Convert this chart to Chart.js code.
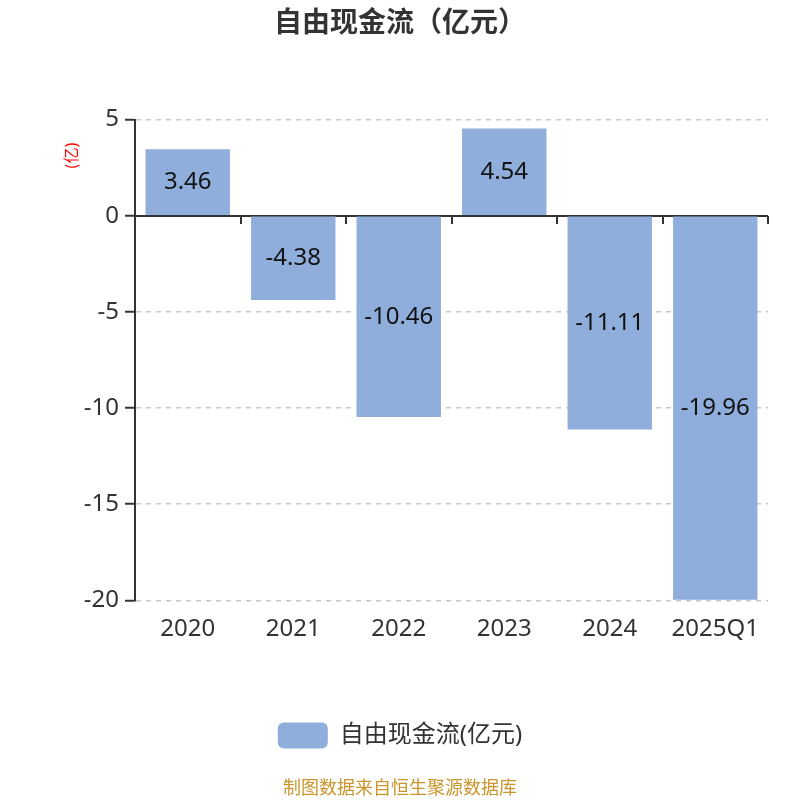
<!DOCTYPE html>
<html>
<head>
<meta charset="utf-8">
<script src="https://cdn.jsdelivr.net/npm/chart.js@4.4.1/dist/chart.umd.min.js"></script>
<style>
  html, body { margin: 0; padding: 0; background: #fff; }
  #wrap { width: 800px; height: 800px; }
</style>
</head>
<body>
<div id="wrap"><canvas id="fcfChart" width="800" height="800"></canvas></div>
<script>
// chart data
const categories = ['2020', '2021', '2022', '2023', '2024', '2025Q1'];
const fcfValues = [3.46, -4.38, -10.46, 4.54, -11.11, -19.96];
const yTicks = [5, 0, -5, -10, -15, -20];

const FONT = '"Noto Sans", "Noto Sans CJK SC", sans-serif';
const BAR_COLOR = '#8FAEDB';

// zero line with small ticks between categories (drawn under the bars)
const zeroLinePlugin = {
    id: 'zeroLine',
    beforeDatasetsDraw(chart) {
        const ctx = chart.ctx;
        const x = chart.scales.x;
        const y0 = Math.round(chart.scales.y.getPixelForValue(0));
        const area = chart.chartArea;
        ctx.save();
        ctx.strokeStyle = '#333';
        ctx.lineWidth = 2;
        ctx.beginPath();
        ctx.moveTo(area.left, y0);
        ctx.lineTo(area.right, y0);
        const step = (area.right - area.left) / categories.length;
        for (let i = 1; i <= categories.length; i++) {
            const tx = Math.round(x.getPixelForValue(i - 1) + step / 2);
            ctx.moveTo(tx, y0);
            ctx.lineTo(tx, y0 + 8);
        }
        ctx.stroke();
        ctx.restore();
    }
};

// value labels in the middle of each bar + the small red unit label
const barLabelPlugin = {
    id: 'barLabels',
    afterDatasetsDraw(chart) {
        const ctx = chart.ctx;
        const meta = chart.getDatasetMeta(0);
        ctx.save();
        ctx.font = '24px ' + FONT;
        ctx.fillStyle = '#111';
        ctx.textAlign = 'center';
        ctx.textBaseline = 'middle';
        meta.data.forEach(function(bar, i) {
            const mid = (bar.y + bar.base) / 2;
            ctx.fillText(fcfValues[i].toFixed(2), bar.x, mid);
        });
        ctx.restore();

        const area = chart.chartArea;
        ctx.save();
        ctx.translate(area.left - 63, area.top + 36);
        ctx.rotate(-Math.PI / 2);
        ctx.font = '16px ' + FONT;
        ctx.fillStyle = '#ff0000';
        ctx.textAlign = 'center';
        ctx.textBaseline = 'middle';
        ctx.fillText('(亿)', 0, 0);
        ctx.restore();
    }
};

new Chart(document.getElementById('fcfChart'), {
    type: 'bar',
    data: {
        labels: categories,
        datasets: [{
            label: '自由现金流(亿元)',
            data: fcfValues,
            backgroundColor: BAR_COLOR,
            borderWidth: 0,
            categoryPercentage: 0.8,
            barPercentage: 1.0
        }]
    },
    options: {
        responsive: false,
        animation: false,
        devicePixelRatio: 1,
        layout: { padding: 0 },
        plugins: {
            title: {
                display: true,
                text: '自由现金流（亿元）',
                color: '#333',
                font: { family: FONT, size: 28, weight: 'bold' },
                padding: { top: 7, bottom: 79 }
            },
            subtitle: {
                display: true,
                position: 'bottom',
                text: '制图数据来自恒生聚源数据库',
                color: '#C9952C',
                font: { family: FONT, size: 18 },
                padding: { top: 20, bottom: 0 }
            },
            legend: {
                position: 'bottom',
                labels: {
                    color: '#333',
                    font: { family: FONT, size: 24 },
                    boxWidth: 50,
                    boxHeight: 26,
                    useBorderRadius: true,
                    borderRadius: 6,
                    padding: 10
                }
            },
            tooltip: { enabled: false }
        },
        scales: {
            x: {
                grid: { display: false },
                border: { display: false },
                ticks: {
                    color: '#333',
                    font: { family: FONT, size: 24 },
                    padding: 6
                },
                afterFit(scale) { scale.height = 112; }
            },
            y: {
                min: -20,
                max: 5,
                afterBuildTicks(scale) {
                    scale.ticks = yTicks.map(v => ({ value: v }));
                },
                afterFit(scale) { scale.width = 135; },
                border: { display: true, color: '#333', width: 2, dash: [5, 5] },
                grid: {
                    color: ctx => (ctx.tick && ctx.tick.value === 0) ? 'rgba(0,0,0,0)' : '#c8c8c8',
                    lineWidth: 1.5,
                    tickColor: '#333',
                    tickLength: 10,
                    tickWidth: 2,
                    tickBorderDash: []
                },
                ticks: {
                    color: '#333',
                    font: { family: FONT, size: 24 },
                    padding: 6
                }
            },
            // empty right-hand gutter so the plot stops short of the edge
            gutter: {
                type: 'linear',
                position: 'right',
                grid: { display: false },
                border: { display: false },
                ticks: { display: false },
                afterFit(scale) { scale.width = 32; }
            }
        }
    },
    plugins: [zeroLinePlugin, barLabelPlugin]
});
</script>
</body>
</html>
